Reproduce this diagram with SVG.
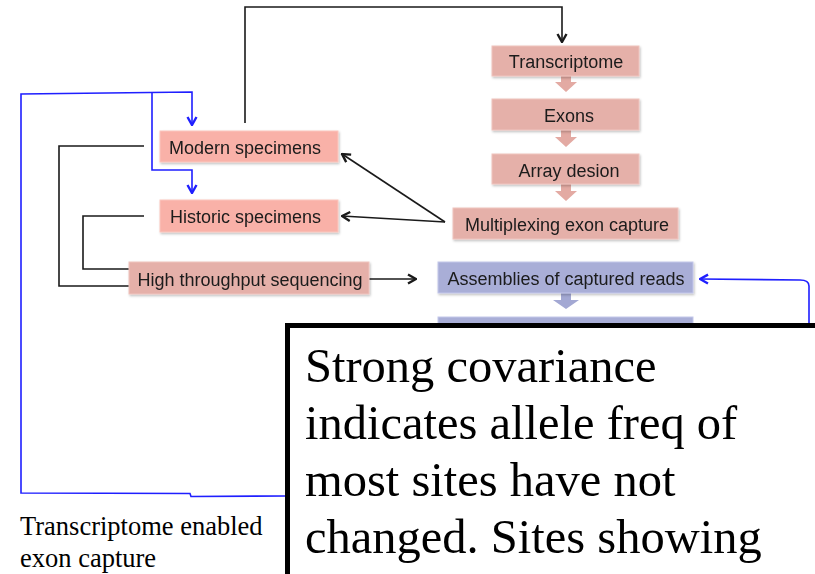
<svg xmlns="http://www.w3.org/2000/svg" width="815" height="574" viewBox="0 0 815 574">
  <style>
    .lbl { font-family: "Liberation Sans", Arial, sans-serif; font-size: 18px; fill: #1a1a1a; }
    .ctr { text-anchor: middle; }
    .pinkA { fill: #f9b1a8; stroke: #fbc6be; stroke-width: 1; }
    .pinkB { fill: #e5b0a9; stroke: #efc4be; stroke-width: 1; }
    .lav { fill: #a9aed7; stroke: #c3c7ea; stroke-width: 1; }
    .blkA { fill: #e3aaa3; }
    .blkL { fill: #a3a8d3; }
    .k { fill: none; stroke: #1a1a1a; stroke-width: 1.6; }
    .b { fill: none; stroke: #1f1fff; stroke-width: 1.6; }
    .serif { font-family: "Liberation Serif", "Times New Roman", serif; fill: #000; }
  </style>
  <defs>
    <filter id="sh" x="-10%" y="-20%" width="120%" height="150%">
      <feDropShadow dx="1" dy="1.5" stdDeviation="1" flood-color="#000" flood-opacity="0.25"/>
    </filter>
    <marker id="ak" viewBox="0 0 12 12" refX="11" refY="6" markerWidth="12" markerHeight="12" markerUnits="userSpaceOnUse" orient="auto">
      <polyline points="3,1.5 11,6 3,10.5" fill="none" stroke="#1a1a1a" stroke-width="2.4" stroke-linejoin="miter"/>
    </marker>
    <marker id="ab" viewBox="0 0 12 12" refX="11" refY="6" markerWidth="12" markerHeight="12" markerUnits="userSpaceOnUse" orient="auto">
      <polyline points="3,1.5 11,6 3,10.5" fill="none" stroke="#1f1fff" stroke-width="2.4" stroke-linejoin="miter"/>
    </marker>
  </defs>

  <rect width="815" height="574" fill="#fff"/>

  <!-- connectors -->
  <g id="connectors">
    <!-- feedback from modern specimens to transcriptome -->
    <path class="k" d="M245,123 V7 H562 V42" marker-end="url(#ak)"/>
    <!-- multiplexing capture to specimen pools -->
    <path class="k" d="M445,222 L342,154" marker-end="url(#ak)"/>
    <path class="k" d="M445,222 L342,216" marker-end="url(#ak)"/>
    <!-- specimens into sequencing -->
    <path class="k" d="M144,146 H59 V286 H129"/>
    <path class="k" d="M144,216 H83 V269 H129"/>
    <!-- sequencing to assemblies -->
    <path class="k" d="M369,279 H416" marker-end="url(#ak)"/>
    <!-- blue loop -->
    <path class="b" d="M285,496 L191,496.5 L190,493.5 L21,493 V94 L192,92 V125" marker-end="url(#ab)"/>
    <path class="b" d="M152,93 V170 H192 V193" marker-end="url(#ab)"/>
    <path class="b" d="M809,323 V286 Q809,280 800,280 L700,279" marker-end="url(#ab)"/>
  </g>

  <!-- block arrows between steps -->
  <g id="flow-arrows">
    <polygon class="blkA" points="561,76 571,76 571,82 577,82 566,92 555,82 561,82"/>
    <polygon class="blkA" points="561,130 571,130 571,137 577,137 566,147 555,137 561,137"/>
    <polygon class="blkA" points="561,184 571,184 571,191 577,191 566,201 555,191 561,191"/>
    <polygon class="blkL" points="561,293 571,293 571,300 579,300 566,309 553,300 561,300"/>
  </g>

  <g id="modern" filter="url(#sh)">
    <rect class="pinkA" x="160" y="131" width="178" height="31"/>
    <text class="lbl" x="169" y="154">Modern specimens</text>
  </g>
  <g id="historic" filter="url(#sh)">
    <rect class="pinkA" x="160" y="200" width="178" height="32"/>
    <text class="lbl" x="170" y="223">Historic specimens</text>
  </g>
  <g id="hts" filter="url(#sh)">
    <rect class="pinkB" x="129" y="262" width="240" height="32"/>
    <text class="lbl ctr" x="250" y="285.5">High throughput sequencing</text>
  </g>
  <g id="transcriptome" filter="url(#sh)">
    <rect class="pinkB" x="492" y="46" width="147" height="30"/>
    <text class="lbl ctr" x="566" y="68">Transcriptome</text>
  </g>
  <g id="exons" filter="url(#sh)">
    <rect class="pinkB" x="492" y="99" width="147" height="31"/>
    <text class="lbl ctr" x="569" y="122">Exons</text>
  </g>
  <g id="array" filter="url(#sh)">
    <rect class="pinkB" x="492" y="154" width="147" height="30"/>
    <text class="lbl ctr" x="569" y="177">Array desion</text>
  </g>
  <g id="multiplex" filter="url(#sh)">
    <rect class="pinkB" x="453" y="208" width="225" height="31"/>
    <text class="lbl ctr" x="567" y="231">Multiplexing exon capture</text>
  </g>
  <g id="assemblies" filter="url(#sh)">
    <rect class="lav" x="438" y="262" width="255" height="31"/>
    <text class="lbl ctr" x="566" y="285">Assemblies of captured reads</text>
  </g>
  <g id="next-step">
    <rect class="lav" x="438" y="317" width="255" height="40"/>
  </g>

  <!-- callout box -->
  <g id="callout">
    <rect x="287.5" y="325.5" width="540" height="260" fill="#fff" stroke="#000" stroke-width="5"/>
    <text class="serif" font-size="48.5" x="305">
      <tspan x="305" y="382">Strong covariance</tspan>
      <tspan x="305" y="439">indicates allele freq of</tspan>
      <tspan x="305" y="496">most sites have not</tspan>
      <tspan x="305" y="553">changed. Sites showing</tspan>
    </text>
  </g>

  <g id="caption">
    <text class="serif" font-size="26.5">
      <tspan x="20" y="535">Transcriptome enabled</tspan>
      <tspan x="20" y="567">exon capture</tspan>
    </text>
  </g>
</svg>
